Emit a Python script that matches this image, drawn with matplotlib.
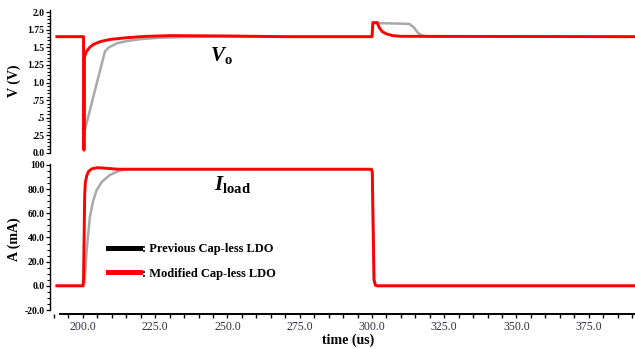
import numpy as np
import matplotlib
matplotlib.use("Agg")
import matplotlib.pyplot as plt
from matplotlib.lines import Line2D
from matplotlib.ticker import MultipleLocator, FixedLocator

plt.rcParams['font.family'] = ['Liberation Serif', 'DejaVu Serif']
plt.rcParams['mathtext.fontset'] = 'custom'
plt.rcParams['mathtext.rm'] = 'Liberation Serif'
plt.rcParams['mathtext.bf'] = 'Liberation Serif:bold'
plt.rcParams['mathtext.bfit'] = 'Liberation Serif:italic:bold'

# output voltage, previous cap-less LDO (gray)
t_v_prev = [191, 200.2, 200.5, 203.6, 207.6, 209, 212, 215.5, 220, 226.6, 236, 245, 300.0,
            300.4, 301.5, 305, 310, 313, 314.5, 316, 317.5, 320, 391]
v_prev = [1.65, 1.65, 0.30, 0.80, 1.44, 1.50, 1.56, 1.59, 1.615, 1.635, 1.645, 1.65, 1.65,
          1.84, 1.84, 1.84, 1.835, 1.83, 1.78, 1.70, 1.665, 1.65, 1.65]

# output voltage, modified cap-less LDO (red)
t_v_mod = [191, 200.2, 200.35, 200.5, 201.2, 202.4, 203.6, 206, 209.3, 215, 222, 230, 250, 270,
           300.0, 300.3, 301.8, 302.5, 303.6, 305, 307.1, 310, 391]
v_mod = [1.65, 1.65, 0.04, 1.36, 1.44, 1.50, 1.54, 1.58, 1.61, 1.635, 1.655, 1.665, 1.66, 1.65,
         1.65, 1.85, 1.85, 1.78, 1.72, 1.69, 1.665, 1.655, 1.65]

# load current
t_i_prev = [191, 200.4, 200.8, 201.3, 202.4, 203.5, 204.7, 206.5, 209.3, 212.8, 216, 299.8,
            300.1, 300.4, 300.7, 301.2, 301.8, 391]
i_prev = [0, 0, 10, 30, 57, 70, 79, 86, 91.7, 95.5, 96.5, 96.5, 94, 50, 5, 0.5, 0, 0]

t_i_mod = [191, 200.0, 200.2, 200.4, 200.6, 200.8, 201.3, 201.9, 203, 205, 208, 212, 299.8,
           300.1, 300.4, 300.7, 301.2, 301.8, 391]
i_mod = [0, 0, 5, 40, 75, 85, 91, 94.5, 96.8, 97.8, 97.3, 96.5, 96.5, 94, 50, 5, 0.5, 0, 0]

v_ticks = [0, 0.25, 0.5, 0.75, 1.0, 1.25, 1.5, 1.75, 2.0]
v_labels = ['0.0', '.25', '.5', '.75', '1.0', '1.25', '1.5', '1.75', '2.0']
i_ticks = [-20, 0, 20, 40, 60, 80, 100]
i_labels = ['-20.0', '0.0', '20.0', '40.0', '60.0', '80.0', '100']
t_ticks = [200, 225, 250, 275, 300, 325, 350, 375]
t_labels = ['%.1f' % t for t in t_ticks]

W, H = 635, 349
fig = plt.figure(figsize=(W / 100, H / 100), dpi=100)

x0 = 50 / W
xlim = (188.6, 391)
ax1 = fig.add_axes([x0, 1 - 153 / H, 1 - x0, (153 - 12) / H])
ax2 = fig.add_axes([x0, 1 - 310 / H, 1 - x0, (310 - 165) / H])

gray = '#a9a9a9'
red = '#ff0000'

ax1.plot(t_v_prev, v_prev, color=gray, lw=1.8, solid_joinstyle='round')
ax1.plot(t_v_mod, v_mod, color=red, lw=2.1, solid_joinstyle='round')
ax2.plot(t_i_prev, i_prev, color=gray, lw=1.8, solid_joinstyle='round')
ax2.plot(t_i_mod, i_mod, color=red, lw=2.1, solid_joinstyle='round')

for ax in (ax1, ax2):
    ax.set_xlim(*xlim)
    ax.spines['top'].set_visible(False)
    ax.spines['right'].set_visible(False)
    ax.spines['left'].set_linewidth(1.0)
    ax.patch.set_alpha(0)
    ax.tick_params(axis='y', which='major', direction='out', length=3, width=0.9, pad=1,
                   labelsize=7)
    ax.tick_params(axis='y', which='minor', direction='out', length=2, width=0.8)

ax1.set_ylim(0, 2.0)
ax1.yaxis.set_major_locator(FixedLocator(v_ticks))
ax1.set_yticklabels(v_labels, fontweight='bold', fontsize=7)
ax1.yaxis.set_minor_locator(MultipleLocator(0.05))
ax1.spines['bottom'].set_visible(False)
ax1.tick_params(axis='x', which='both', bottom=False, labelbottom=False)
ax1.spines['left'].set_bounds(0, 2.03)

ax2.set_ylim(-20, 100)
ax2.yaxis.set_major_locator(FixedLocator(i_ticks))
ax2.set_yticklabels(i_labels, fontweight='bold', fontsize=7)
ax2.yaxis.set_minor_locator(MultipleLocator(5))
ax2.spines['left'].set_bounds(-20, 101)

ax2.spines['bottom'].set_position(('outward', 3))
ax2.spines['bottom'].set_bounds(192, 391)
ax2.spines['bottom'].set_linewidth(1.4)
ax2.xaxis.set_major_locator(FixedLocator(t_ticks))
ax2.set_xticklabels(t_labels, fontsize=8.5, color='#303040')
ax2.xaxis.set_minor_locator(MultipleLocator(5))
ax2.tick_params(axis='x', which='both', direction='out', length=3, width=1.0, pad=2)

fig.text(14 / W, 1 - 81 / H, 'V (V)', rotation=90, ha='center', va='center',
         fontsize=10, fontweight='bold')
fig.text(14 / W, 1 - 239 / H, 'A (mA)', rotation=90, ha='center', va='center',
         fontsize=10, fontweight='bold')
fig.text(348 / W, 1 - 340 / H, 'time (us)', ha='center', va='center',
         fontsize=10, fontweight='bold')

fig.text(210 / W, 1 - 61 / H, r'$\mathbfit{V}_{\mathbf{o}}$', ha='left', va='baseline',
         fontsize=15)
fig.text(214 / W, 1 - 190 / H, r'$\mathbfit{I}_{\mathbf{load}}$', ha='left', va='baseline',
         fontsize=15)

handles = [Line2D([], [], color='black', lw=3.6), Line2D([], [], color=red, lw=3.6)]
leg = fig.legend(handles, [': Previous Cap-less LDO', ': Modified Cap-less LDO'],
                 loc='upper left', bbox_to_anchor=(108 / W, 1 - 243 / H),
                 frameon=False, borderpad=0, borderaxespad=0, handlelength=2.55,
                 handletextpad=0.15, labelspacing=1.0,
                 prop={'family': 'Liberation Serif', 'weight': 'bold', 'size': 9})

fig.savefig('out.png', dpi=100)
